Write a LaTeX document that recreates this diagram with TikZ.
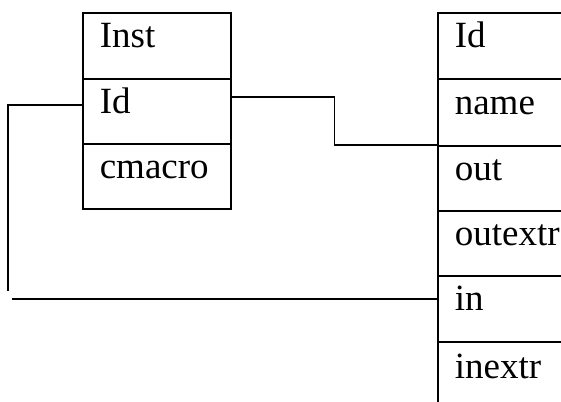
\documentclass[tikz,border=0pt]{standalone}
\usepackage{fontspec}
\setmainfont{Liberation Serif}
\begin{document}
\begin{tikzpicture}[x=1pt,y=-1pt,
  row/.style={draw, line width=1.6pt, anchor=north west, inner ysep=0pt,
    inner xsep=17pt, text height=19pt, text depth=15pt, align=left,
    font=\fontsize{37}{42}\selectfont},
  lrow/.style={row, minimum width=148pt, text width=114pt},
  rrow/.style={row, minimum width=160pt, text width=126pt, inner xsep=16pt},
  conn/.style={draw, line width=1.2pt}]
\clip (0,0) rectangle (561,401);
% left table
\node[lrow, minimum height=66pt] (linst) at (82,12) {Inst};
\node[lrow, minimum height=65pt] (lid) at (82,78) {Id};
\node[lrow, minimum height=65pt] (lcm) at (82,143) {cmacro};
% right table
\node[rrow, minimum height=66pt] (rid) at (437,12) {Id};
\node[rrow, minimum height=67pt] (rname) at (437,78) {name};
\node[rrow, minimum height=65pt] (rout) at (437,145) {out};
\node[rrow, minimum height=65pt] (routx) at (437,210) {outextr};
\node[rrow, minimum height=66pt] (rin) at (437,275) {in};
\node[rrow, minimum height=70pt] (rinx) at (437,341) {inextr};
% connectors
\coordinate (gapTop) at (8,291);
\coordinate (gapBot) at (12,299);
\draw[conn] ([yshift=-19pt]lid.north east) -- ++(103,0) |- (rout.north west);
\draw[conn] ([yshift=-27pt]lid.north west) -| (gapTop);
\draw[conn] (gapBot) -- ([yshift=-24pt]rin.north west);
\end{tikzpicture}
\end{document}
